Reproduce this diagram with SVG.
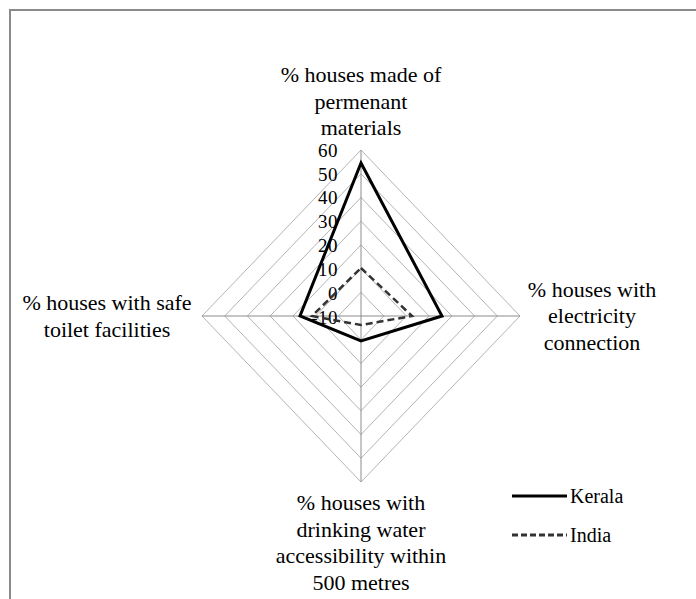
<svg xmlns="http://www.w3.org/2000/svg" width="696" height="599" viewBox="0 0 696 599">
<style>
text{font-family:"Liberation Serif","Times New Roman",serif;fill:#000}
.lbl{font-size:22px;text-anchor:middle}
.tick{font-size:19px;text-anchor:end;letter-spacing:0.5px}
.leg{font-size:20px}
.ring{fill:none;stroke:#b4b4b4;stroke-width:1}
.spoke{stroke:#8c8c8c;stroke-width:1}
.kerala{fill:none;stroke:#000;stroke-width:3;stroke-linejoin:miter}
.india{fill:none;stroke:#333;stroke-width:2.5;stroke-dasharray:7,4}
</style>
<rect x="0" y="0" width="696" height="599" fill="#fff"/>
<rect x="10" y="10" width="700" height="600" fill="none" stroke="#8a8a8a" stroke-width="2"/>
<g id="grid">
<polygon class="ring" points="361,292.3 383.7,316 361,339.7 338.3,316"/>
<polygon class="ring" points="361,268.6 406.4,316 361,363.4 315.6,316"/>
<polygon class="ring" points="361,244.9 429.1,316 361,387.1 292.9,316"/>
<polygon class="ring" points="361,221.2 451.9,316 361,410.8 270.1,316"/>
<polygon class="ring" points="361,197.5 474.6,316 361,434.5 247.4,316"/>
<polygon class="ring" points="361,173.8 497.3,316 361,458.2 224.7,316"/>
<polygon class="ring" points="361,150 520,316 361,482 202,316"/>
<line class="spoke" x1="361" y1="316" x2="361" y2="150"/>
<line class="spoke" x1="361" y1="316" x2="520" y2="316"/>
<line class="spoke" x1="361" y1="316" x2="361" y2="482"/>
<line class="spoke" x1="361" y1="316" x2="202" y2="316"/>
</g>
<g id="scale">
<text class="tick" x="338" y="157">60</text>
<text class="tick" x="338" y="181">50</text>
<text class="tick" x="338" y="204">40</text>
<text class="tick" x="338" y="228">30</text>
<text class="tick" x="338" y="252">20</text>
<text class="tick" x="338" y="276">10</text>
<text class="tick" x="338" y="300">0</text>
<text class="tick" x="338" y="324">-10</text>
</g>
<g id="connectors">
<polygon id="series-kerala" class="kerala" points="361,163 442,316 361,341 300,316"/>
<polygon id="series-india" class="india" points="361,268 412,316 361,325 312,316"/>
</g>
<g id="axis-top">
<text class="lbl" x="361" y="82">% houses made of</text>
<text class="lbl" x="361" y="109">permenant</text>
<text class="lbl" x="361" y="135">materials</text>
</g>
<g id="axis-right">
<text class="lbl" x="592" y="297">% houses with</text>
<text class="lbl" x="592" y="323">electricity</text>
<text class="lbl" x="592" y="350">connection</text>
</g>
<g id="axis-bottom">
<text class="lbl" x="361" y="510">% houses with</text>
<text class="lbl" x="361" y="537">drinking water</text>
<text class="lbl" x="361" y="563">accessibility within</text>
<text class="lbl" x="361" y="590">500 metres</text>
</g>
<g id="axis-left">
<text class="lbl" x="107" y="310">% houses with safe</text>
<text class="lbl" x="107" y="337">toilet facilities</text>
</g>
<g id="legend">
<line x1="512" y1="496" x2="567" y2="496" stroke="#000" stroke-width="3"/>
<text class="leg" x="570" y="503">Kerala</text>
<line x1="512" y1="535" x2="567" y2="535" stroke="#333" stroke-width="3" stroke-dasharray="6,3"/>
<text class="leg" x="570" y="542">India</text>
</g>
</svg>
